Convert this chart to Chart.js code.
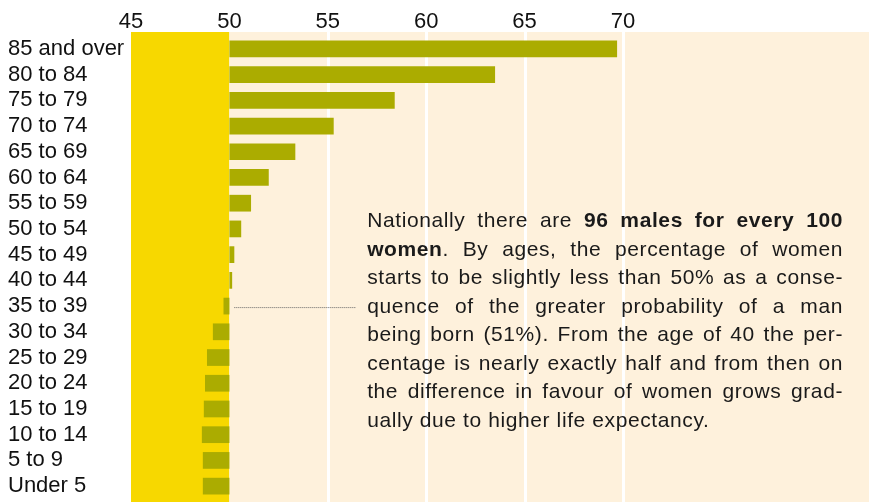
<!DOCTYPE html>
<html>
<head>
<meta charset="utf-8">
<script src="https://cdn.jsdelivr.net/npm/chart.js@4/dist/chart.umd.min.js"></script>
<style>
  html, body { margin: 0; padding: 0; background: #fff; }
  #wrap { width: 871px; height: 502px; }
</style>
</head>
<body>
<div id="wrap"><canvas id="sexRatio" width="871" height="502"></canvas></div>
<script>
// age groups, top to bottom
var ageGroups = ["85 and over", "80 to 84", "75 to 79", "70 to 74", "65 to 69", "60 to 64",
    "55 to 59", "50 to 54", "45 to 49", "40 to 44", "35 to 39", "30 to 34",
    "25 to 29", "20 to 24", "15 to 19", "10 to 14", "5 to 9", "Under 5"];
// percentage of women in each group
var womenPct = [69.7, 63.5, 58.4, 55.3, 53.35, 52.0, 51.1, 50.6, 50.25, 50.14, 49.7, 49.16,
    48.86, 48.76, 48.7, 48.6, 48.65, 48.65];
var xTicks = [45, 50, 55, 60, 65, 70];
var baseline = 50;

var note = [
    "Nationally there are **96 males for every 100**",
    "**women**. By ages, the percentage of women",
    "starts to be slightly less than 50% as a conse-",
    "quence of the greater probability of a man",
    "being born (51%). From the age of 40 the per-",
    "centage is nearly exactly half and from then on",
    "the difference in favour of women grows grad-",
    "ually due to higher life expectancy."
];

var FONT = "'Liberation Sans', Arial, sans-serif";

// yellow band below 50, cream above, white grid lines
var bandsPlugin = {
    id: 'bands',
    beforeDraw: function(chart) {
        var ctx = chart.ctx, a = chart.chartArea, x = chart.scales.x;
        var top = a.top - 4, bottom = chart.height;
        var x45 = x.getPixelForValue(45), x50 = x.getPixelForValue(baseline);
        ctx.save();
        ctx.fillStyle = '#f7d800';
        ctx.fillRect(x45, top, x50 - x45, bottom - top);
        ctx.fillStyle = '#fef1dc';
        ctx.fillRect(x50, top, a.right - x50, bottom - top);
        ctx.strokeStyle = '#ffffff';
        ctx.lineWidth = 3;
        xTicks.forEach(function(v) {
            if (v <= baseline) return;
            var px = Math.round(x.getPixelForValue(v)) + 0.5;
            ctx.beginPath();
            ctx.moveTo(px, top);
            ctx.lineTo(px, bottom);
            ctx.stroke();
        });
        ctx.restore();
    }
};

function parseLine(line, state) {
    var words = [];
    line.split(' ').forEach(function(w) {
        var pieces = w.split('**'), word = [];
        pieces.forEach(function(p, i) {
            if (i > 0) state.bold = !state.bold;
            if (p) word.push({ t: p, b: state.bold });
        });
        words.push(word);
    });
    return words;
}

var notePlugin = {
    id: 'note',
    afterDatasetsDraw: function(chart) {
        var ctx = chart.ctx, x = chart.scales.x, y = chart.scales.y;
        var left = x.getPixelForValue(57);
        var right = chart.chartArea.right - 26;
        var anchorY = y.getPixelForValue(10);
        var lh = 28.5;
        var state = { bold: false };
        ctx.save();
        ctx.fillStyle = '#1a1a1a';
        ctx.textBaseline = 'middle';
        ctx.letterSpacing = '0.6px';

        function font(b) { return (b ? 'bold ' : '') + '21px ' + FONT; }
        function wordWidth(word) {
            var w = 0;
            word.forEach(function(p) { ctx.font = font(p.b); w += ctx.measureText(p.t).width; });
            return w;
        }

        note.forEach(function(line, i) {
            var words = parseLine(line, state);
            var ly = anchorY + (i - 3) * lh + 1;
            var widths = words.map(wordWidth);
            var total = widths.reduce(function(s, v) { return s + v; }, 0);
            ctx.font = font(false);
            var space = ctx.measureText(' ').width;
            if (i < note.length - 1 && words.length > 1) {
                space = (right - left - total) / (words.length - 1);
            }
            var cx = left;
            words.forEach(function(word) {
                word.forEach(function(p) {
                    ctx.font = font(p.b);
                    ctx.fillText(p.t, cx, ly);
                    cx += ctx.measureText(p.t).width;
                });
                cx = cx + space;
            });
        });

        // dotted leader from the 35 to 39 bar to the text
        ctx.strokeStyle = '#666';
        ctx.lineWidth = 1;
        ctx.setLineDash([1, 1]);
        ctx.beginPath();
        ctx.moveTo(x.getPixelForValue(50.25), anchorY + 1.5);
        ctx.lineTo(x.getPixelForValue(56.45), anchorY + 1.5);
        ctx.stroke();
        ctx.restore();
    }
};

var ctx = document.getElementById("sexRatio").getContext('2d');
var myChart = new Chart(ctx, {
    type: 'bar',
    data: {
        labels: ageGroups,
        datasets: [{
            label: 'Women (%)',
            data: womenPct.map(function(v) { return [baseline, v]; }),
            backgroundColor: '#abac00',
            borderWidth: 0,
            barPercentage: 0.65,
            categoryPercentage: 1
        }]
    },
    options: {
        indexAxis: 'y',
        responsive: false,
        animation: false,
        devicePixelRatio: 1,
        layout: { padding: { left: 8, right: 2, top: 0, bottom: 3 } },
        plugins: {
            legend: { display: false },
            tooltip: { enabled: false }
        },
        scales: {
            x: {
                position: 'top',
                min: 45,
                max: 82.5,
                border: { display: false },
                afterFit: function(scale) { scale.height = 36; },
                afterBuildTicks: function(scale) {
                    scale.ticks = xTicks.map(function(v) { return { value: v }; });
                },
                grid: { display: false, drawTicks: false },
                ticks: {
                    padding: 1,
                    color: '#111',
                    font: { family: FONT, size: 22 }
                }
            },
            y: {
                border: { display: false },
                afterFit: function(scale) {
                    scale.width = 123;
                    scale.paddingTop = 0;
                    scale.paddingBottom = 0;
                },
                grid: { display: false, drawTicks: false },
                ticks: {
                    autoSkip: false,
                    crossAlign: 'far',
                    color: '#111',
                    font: { family: FONT, size: 22 }
                }
            }
        }
    },
    plugins: [bandsPlugin, notePlugin]
});
</script>
</body>
</html>
